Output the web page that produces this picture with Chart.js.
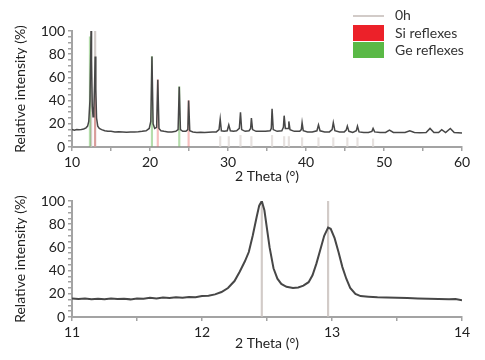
<!DOCTYPE html>
<html>
<head>
<meta charset="utf-8">
<script src="https://cdn.jsdelivr.net/npm/chart.js@4/dist/chart.umd.min.js"></script>
<style>
  html, body { margin: 0; padding: 0; background: #fff; }
  body { width: 485px; height: 360px; position: relative; overflow: hidden; font-family: Lato, "Open Sans", sans-serif; }
  #top { position: absolute; left: 0; top: 0; }
  #bottom { position: absolute; left: 0; top: 188px; }
  #legend { position: absolute; left: 353px; top: 6px; font-size: 14px; color: #333; }
  .item { position: absolute; left: 0; white-space: nowrap; }
  .sym { position: absolute; left: 0; width: 31px; }
  .txt { position: absolute; left: 42px; line-height: 16px; }
</style>
</head>
<body>
<canvas id="top" width="485" height="188"></canvas>
<canvas id="bottom" width="485" height="172"></canvas>
<div id="legend"></div>
<script>
// ---------- DATA ----------
// Top panel: full scan 10–60° 2θ
const topX = [10.0,10.3,10.6,10.9,11.2,11.5,11.8,12.0,12.15,12.3,12.4,12.45,12.5,12.6,12.7,12.8,12.9,12.97,13.05,13.15,13.3,13.5,13.8,14.2,14.6,15.0,15.5,16.0,16.5,17.0,17.5,18.0,18.5,19.0,19.5,19.9,20.1,20.25,20.4,20.6,20.85,21.0,21.15,21.4,21.8,22.3,22.8,23.3,23.6,23.75,23.9,24.2,24.6,24.85,24.95,25.1,25.5,26.0,26.5,27.0,27.5,28.0,28.5,28.85,29.0,29.15,29.5,29.9,30.1,30.3,30.7,31.1,31.45,31.6,31.75,32.2,32.7,32.9,33.0,33.15,33.6,34.2,34.8,35.4,35.55,35.65,35.8,36.3,36.9,37.1,37.2,37.35,37.7,37.8,37.95,38.5,39.2,39.4,39.5,39.65,40.2,40.8,41.4,41.6,41.8,42.4,43.0,43.35,43.5,43.7,44.3,44.9,45.15,45.3,45.5,46.0,46.45,46.6,46.8,47.4,48.0,48.45,48.6,48.8,49.5,50.2,50.7,51.2,52.0,52.7,53.3,53.9,54.6,55.4,55.9,56.4,57.0,57.4,57.9,58.5,59.0,59.5,60.0];
const topY = [15,14.5,15,14.8,15,15.5,16.5,18,22,40,80,100,75,35,26,32,55,78,50,25,18,16,15,14,13.5,13.5,13,13.2,13,12.8,13,13,13.2,13.5,14,16,22,78,20,16,17,58,16,14,13.5,13,13,13.5,15,52,15,13.5,13.5,15,40,14,13,12.5,12.8,12.5,12.8,13,13,15,24,14,13.5,14,19,14,13.5,14,16,30,15,13.5,14,16,25,15,13.5,13.5,13.5,14,16,33,15,13.5,14,17,27,16,16,22,15,13.5,13.5,15,21,14,13,13,14,19,14,13,13,15,21,14,13,13,14.5,18,13.5,12.5,14,18,13,12.5,12.5,13.5,16,13,12.5,12.5,14.5,12.5,12.5,12.5,14,12.5,12.3,12.5,16,12.5,12.5,15,12.5,16,12.5,12.3,12];

// Reference reflex positions (top panel)
const zeroHX = [12.45,12.97,29.0,30.1,31.6,33.0,35.65,37.2,37.8,39.5,41.6,43.5,45.3,46.6,48.6];
const zeroHY = [100,100,9,9,10,9,10,9,9,8,8,8,8,8,7];
const siX = [12.95,21.0,24.95];
const siY = [60,58,40];
const geX = [12.3,20.25,23.75];
const geY = [95,78,52];

// Bottom panel: zoom 11–14° 2θ
const botX = [11.00,11.05,11.10,11.15,11.20,11.25,11.30,11.35,11.40,11.45,11.50,11.55,11.60,11.65,11.70,11.75,11.80,11.85,11.90,11.95,12.00,12.05,12.10,12.15,12.20,12.25,12.29,12.33,12.36,12.39,12.42,12.44,12.46,12.48,12.50,12.52,12.55,12.58,12.61,12.65,12.70,12.74,12.78,12.82,12.85,12.88,12.91,12.94,12.97,12.99,13.02,13.05,13.08,13.11,13.14,13.18,13.22,13.28,13.35,13.42,13.50,13.58,13.66,13.74,13.82,13.90,13.95,14.00];
const botY = [16,15.5,16,15.3,15.8,15.4,16,15.5,15.8,15.2,16,15.8,16.5,16,16.8,16.3,17,16.5,17.3,17,18,18.3,19.5,21.5,25,31,39,48,56,70,86,96,100,92,76,60,42,33,28.5,26,25,25.5,27,30,36,46,58,70,77,76,68,56,43,33,25,20,18,17.5,17,16.8,16.5,16.3,16,15.8,15.6,15.3,15.5,14.5];
const botZeroHX = [12.46,12.97];
const botZeroHY = [100,100];

const topXTicks = [10,20,30,40,50,60];
const botXTicks = [11,12,13,14];
const yTicks = [0,20,40,60,80,100];

const legendLabels = ['0h','Si reflexes','Ge reflexes'];
</script>
<script>
const pts = (xs, ys) => xs.map((x, i) => ({x, y: ys[i]}));
const FONT = {family: 'Lato, "Open Sans", sans-serif', size: 14};
const AX = '#a3a3a3';
const TXT = '#222';
const TRACE = '#474747';
const C0H = '#d2cbc8';
const C0H_SMALL = '#e6e1df';
const CSI = 'rgba(230,70,70,0.35)';
const CGE = 'rgba(90,180,70,0.45)';

function axes(xmin, xmax, xstep, xLabels, xAxisH, titlePadBottom) {
  return {
    x: {
      type: 'linear', min: xmin, max: xmax, offset: false,
      border: {color: AX, width: 2},
      grid: {drawOnChartArea: false, color: AX, tickLength: 4, lineWidth: 1.5, offset: false},
      ticks: {stepSize: xstep, autoSkip: false, maxRotation: 0, color: TXT, font: FONT, padding: 3,
        callback: v => xLabels.some(t => Math.abs(t - v) < 1e-6) ? String(Math.round(v)) : ''},
      title: {display: true, text: '2 Theta (°)', color: TXT, font: FONT, padding: {top: 0, bottom: titlePadBottom}},
      afterFit: s => { s.height = xAxisH; }
    },
    y: {
      type: 'linear', min: 0, max: 100,
      border: {color: AX, width: 2},
      grid: {drawOnChartArea: false, color: AX, tickLength: 4, lineWidth: 1.5},
      ticks: {stepSize: 5, autoSkip: false, color: TXT, font: FONT, padding: 3,
        callback: v => yTicks.includes(v) ? String(v) : ''},
      title: {display: true, text: 'Relative intensity (%)', color: TXT, font: FONT, padding: {top: 12, bottom: 0}},
      afterFit: s => { s.width = 72; }
    }
  };
}

const stick = (label, xs, ys, color, w) => ({
  type: 'bar', label, data: pts(xs, ys),
  backgroundColor: ctx => (ctx.raw && ctx.raw.y < 50 && label === '0h') ? C0H_SMALL : color,
  borderWidth: 0, barThickness: w, grouped: false
});

new Chart(document.getElementById('top'), {
  type: 'line',
  data: {
    datasets: [
      {label: 'trace', data: pts(topX, topY), borderColor: TRACE, borderWidth: 1.5, pointRadius: 0, tension: 0, fill: false},
      stick('Ge reflexes', geX, geY, CGE, 1.5),
      stick('Si reflexes', siX, siY, CSI, 1.5),
      stick('0h', zeroHX, zeroHY, C0H, 1.5)
    ]
  },
  options: {
    responsive: false, animation: false, events: [],
    layout: {padding: {top: 31, right: 23, left: 0, bottom: 0}},
    plugins: {legend: {display: false}, tooltip: {enabled: false}},
    scales: axes(10, 60, 5, topXTicks, 41, 3)
  }
});

new Chart(document.getElementById('bottom'), {
  type: 'line',
  data: {
    datasets: [
      {label: 'trace', data: pts(botX, botY), borderColor: TRACE, borderWidth: 2, pointRadius: 0, tension: 0, fill: false},
      stick('0h', botZeroHX, botZeroHY, C0H, 1.5)
    ]
  },
  options: {
    responsive: false, animation: false, events: [],
    layout: {padding: {top: 13, right: 23, left: 0, bottom: 0}},
    plugins: {legend: {display: false}, tooltip: {enabled: false}},
    scales: axes(11, 14, 0.5, botXTicks, 43, 8)
  }
});

// Legend (HTML text)
const legendColors = [C0H, '#ec2129', '#5ab946'];
const lg = document.getElementById('legend');
const rowsTop = [0, 18, 35];
legendLabels.forEach((lab, i) => {
  const it = document.createElement('div');
  it.className = 'item';
  it.style.top = rowsTop[i] + 'px';
  const sym = document.createElement('div');
  sym.className = 'sym';
  if (i === 0) { sym.style.top = '9px'; sym.style.height = '2px'; }
  else { sym.style.top = '1px'; sym.style.height = '16px'; }
  sym.style.background = legendColors[i];
  const t = document.createElement('div');
  t.className = 'txt';
  t.style.top = '1px';
  t.textContent = lab;
  it.appendChild(sym); it.appendChild(t);
  lg.appendChild(it);
});
</script>
</body>
</html>
